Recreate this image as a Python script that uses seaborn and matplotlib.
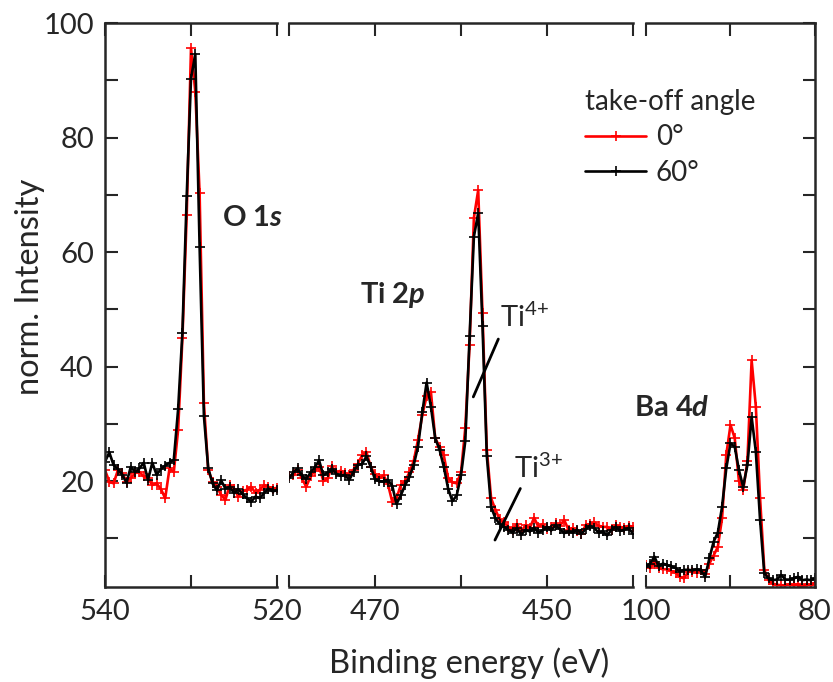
import numpy as np
import pandas as pd
import matplotlib
matplotlib.use('Agg')
import matplotlib.pyplot as plt
import seaborn as sns
from matplotlib.ticker import FixedLocator

sns.set_style('ticks')
plt.rcParams['font.family'] = ['Lato', 'DejaVu Sans']
plt.rcParams['mathtext.fontset'] = 'custom'
plt.rcParams['mathtext.rm'] = 'Lato'
plt.rcParams['mathtext.it'] = 'Lato:italic'
plt.rcParams['mathtext.bf'] = 'Lato:bold'
plt.rcParams['mathtext.bfit'] = 'Lato:italic:bold'

# energy grids (0.5 eV steps) for the three windows
e_o1s = np.linspace(540, 520, 41)
e_ti2p = np.linspace(480, 440, 81)
e_ba4d = np.linspace(100, 80, 41)

# O 1s, take-off angle 0 deg / 60 deg
o1s_0 = [21.9, 19.9, 19.6, 21.9, 21.4, 19.9, 20.5, 21.4, 21.6, 20.8,
         20.5, 19.3, 19.6, 18.6, 17.0, 22.2, 21.6, 28.9, 44.9, 66.5,
         95.6, 88.0, 70.3, 33.6, 21.9, 19.9, 19.0, 17.6, 16.7, 19.3,
         18.7, 17.3, 18.2, 18.5, 19.0, 17.9, 18.5, 19.3, 19.0, 18.7,
         18.8]
o1s_60 = [23.4, 25.0, 22.8, 22.1, 21.1, 19.7, 22.5, 21.6, 22.2, 23.2,
          20.2, 23.2, 21.1, 22.1, 22.7, 23.2, 23.7, 32.5, 45.9, 69.7,
          90.3, 94.6, 60.9, 31.4, 22.3, 19.6, 18.4, 20.1, 18.7, 19.0,
          17.9, 18.6, 17.7, 17.0, 16.4, 17.3, 17.0, 17.9, 18.7, 18.2,
          18.4]

# Ti 2p
ti2p_0 = [20.8, 21.0, 22.0, 20.5, 19.0, 20.8, 21.8, 22.5, 20.0, 20.5,
          22.6, 21.5, 21.8, 21.4, 21.0, 22.0, 23.0, 24.5, 25.1, 22.5,
          21.2, 20.5, 21.0, 19.5, 16.4, 17.0, 19.3, 20.0, 21.5, 23.5,
          27.2, 31.5, 34.8, 35.6, 27.5, 26.0, 24.5, 20.5, 19.8, 19.6,
          21.5, 29.3, 43.8, 66.0, 70.8, 49.3, 25.5, 17.0, 15.0, 13.3,
          12.8, 12.0, 11.5, 12.5, 11.2, 12.3, 11.8, 13.6, 12.0, 12.5,
          11.6, 12.0, 12.6, 12.2, 13.2, 11.5, 11.8, 11.2, 10.8, 12.3,
          12.5, 12.8, 12.2, 12.0, 12.0, 11.5, 12.3, 12.0, 11.8, 12.2,
          12.0]
ti2p_60 = [20.5, 21.5, 22.2, 21.0, 20.3, 21.5, 22.4, 23.6, 21.0, 21.5,
           22.1, 21.3, 20.9, 21.1, 20.2, 21.6, 22.8, 23.0, 24.3, 22.5,
           20.3, 20.0, 19.9, 20.2, 19.2, 16.0, 17.5, 19.3, 20.7, 22.8,
           26.0, 32.0, 37.2, 33.0, 27.5, 25.5, 22.5, 18.7, 16.5, 17.5,
           21.0, 27.0, 45.3, 62.7, 66.8, 47.1, 24.4, 15.5, 13.5, 12.5,
           12.0, 11.5, 11.0, 11.8, 10.6, 11.5, 11.2, 11.8, 11.0, 11.4,
           12.0, 11.4, 12.3, 11.6, 10.9, 11.2, 11.0, 11.5, 10.8, 11.6,
           12.2, 11.8, 11.0, 11.2, 10.5, 11.5, 12.0, 11.3, 11.5, 11.8,
           10.8]

# Ba 4d
ba4d_0 = [5.3, 4.8, 5.8, 4.8, 4.6, 4.6, 4.3, 4.0, 3.3, 3.0,
          4.2, 4.2, 4.0, 4.5, 3.8, 5.6, 7.0, 8.5, 13.5, 24.6,
          29.8, 27.5, 20.0, 18.4, 23.5, 41.1, 33.0, 17.0, 4.5, 2.7,
          2.1, 1.9, 1.8, 1.8, 2.0, 1.8, 2.0, 1.6, 2.0, 1.8,
          2.2]
ba4d_60 = [5.0, 5.6, 6.8, 5.1, 5.6, 5.3, 5.1, 4.8, 4.2, 4.5,
           4.5, 4.4, 4.6, 4.4, 3.3, 6.5, 9.4, 11.0, 15.5, 22.2,
           26.6, 26.0, 21.9, 19.0, 22.8, 31.2, 25.1, 13.2, 3.9, 3.0,
           2.7, 2.8, 3.6, 2.8, 2.8, 3.0, 3.3, 2.7, 2.8, 2.7,
           3.0]

W, H = 833, 682
fig = plt.figure(figsize=(W / 100, H / 100), dpi=100)
bot = 1 - 587 / H
hgt = (587 - 23) / H
ax1 = fig.add_axes([105 / W, bot, 172 / W, hgt])
ax2 = fig.add_axes([289 / W, bot, 344 / W, hgt])
ax3 = fig.add_axes([646 / W, bot, 169 / W, hgt])

panels = [
    (ax1, e_o1s, o1s_0, o1s_60, (540, 520), [540, 520], [530]),
    (ax2, e_ti2p, ti2p_0, ti2p_60, (480, 440), [470, 450], [480, 460, 440]),
    (ax3, e_ba4d, ba4d_0, ba4d_60, (100, 80), [100, 80], [90]),
]

for ax, e, y0, y60, xl, major, minor in panels:
    df = pd.DataFrame({'E': e, '0°': y0, '60°': y60})
    for col, c in [('0°', 'red'), ('60°', 'black')]:
        sns.lineplot(data=df, x='E', y=col, ax=ax, color=c, marker='+',
                     markersize=6.5, markeredgewidth=1.2, markeredgecolor=c,
                     linewidth=1.9, label=col, estimator=None, sort=False)
    if ax.get_legend() is not None:
        ax.get_legend().remove()
    ax.set_xlim(*xl)
    ax.set_ylim(1.5, 100)
    ax.xaxis.set_major_locator(FixedLocator(major))
    ax.xaxis.set_minor_locator(FixedLocator(minor))
    ax.yaxis.set_major_locator(FixedLocator([20, 40, 60, 80, 100]))
    ax.yaxis.set_minor_locator(FixedLocator([10, 30, 50, 70, 90]))
    ax.set_xlabel('')
    ax.set_ylabel('')
    for s in ax.spines.values():
        s.set_linewidth(1.8)
    ax.tick_params(axis='x', which='both', direction='in', top=True, bottom=True,
                   length=9, width=1.5, labelsize=21, pad=9)
    ax.tick_params(axis='y', which='both', direction='in', length=9, width=1.5,
                   labelsize=21, pad=8)

ax1.spines['right'].set_visible(False)
ax2.spines['left'].set_visible(False)
ax2.spines['right'].set_visible(False)
ax3.spines['left'].set_visible(False)
ax1.tick_params(axis='y', which='both', left=True, right=False)
ax2.tick_params(axis='y', which='both', left=False, right=False, labelleft=False)
ax3.tick_params(axis='y', which='both', left=False, right=True,
                labelleft=False, labelright=False)

# peak labels
ax1.text(526.4, 65.9, r'O 1$\mathbfit{s}$', fontsize=21, fontweight='bold',
         ha='left', va='center')
ax2.text(471.7, 52.5, r'Ti 2$\mathbfit{p}$', fontsize=21, fontweight='bold',
         ha='left', va='center')
ax3.text(101.4, 32.8, r'Ba 4$\mathbfit{d}$', fontsize=21, fontweight='bold',
         ha='left', va='center', clip_on=False)
ax2.text(455.5, 46.9, r'Ti$^{4{+}}$', fontsize=21, ha='left', va='baseline')
ax2.text(453.8, 20.5, r'Ti$^{3{+}}$', fontsize=21, ha='left', va='baseline')
ax2.plot([458.57, 455.66], [34.7, 44.8], color='black', linewidth=2.0)
ax2.plot([456.05, 453.1], [9.7, 18.7], color='black', linewidth=2.0)

handles, labels = ax1.get_legend_handles_labels()
fig.legend(handles, labels, title='take-off angle', loc='upper left',
           bbox_to_anchor=(585 / W, 1 - 89 / H), frameon=False, fontsize=20,
           title_fontsize=20, alignment='left', borderpad=0, borderaxespad=0,
           handlelength=2.2, handletextpad=0.35, labelspacing=0.34)

fig.text(469 / W, 1 - 663 / H, 'Binding energy (eV)', fontsize=23.5,
         ha='center', va='center')
fig.text(30 / W, 1 - 287 / H, 'norm. Intensity', fontsize=23.5, rotation=90,
         ha='center', va='center')

fig.savefig('out.png', dpi=100)
